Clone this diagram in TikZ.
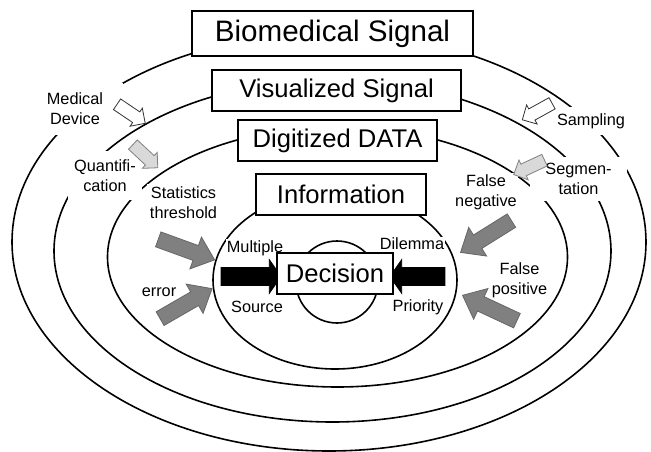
\documentclass[tikz,border=0pt]{standalone}
\usepackage{fontspec}
\setmainfont{Liberation Sans}
\usetikzlibrary{shapes.arrows}

\begin{document}
\begin{tikzpicture}[x=1pt, y=-1pt,
  ring/.style={draw=black, line width=1.6pt},
  layerbox/.style={draw=black, line width=1.5pt, fill=white, inner sep=0pt,
    minimum height=41pt, font=\fontsize{25.6}{30}\selectfont},
  note/.style={fill=white, inner sep=1pt, align=center,
    font=\fontsize{16.3}{20}\selectfont},
  blockarrow/.style={single arrow, inner xsep=0pt, line width=0.8pt},
  thinarrow/.style={blockarrow, minimum height=34pt, inner ysep=6pt,
    single arrow head extend=4.5pt},
  hollowarrow/.style={thinarrow, fill=white, draw=black!80},
  palearrow/.style={thinarrow, fill=black!15, draw=black!50},
  fatarrow/.style={blockarrow, minimum height=60pt, inner ysep=7.5pt,
    single arrow head extend=9pt, single arrow tip angle=80,
    fill=black!50, draw=black!60},
  solidarrow/.style={blockarrow, inner ysep=8.5pt,
    single arrow head extend=8pt, single arrow tip angle=110,
    fill=black, draw=black}]
  \useasboundingbox (0,0) rectangle (651,452);

  % 同心の楕円 (外側から内側へ)
  \draw[ring] (329,242) ellipse [x radius=317pt, y radius=209pt];
  \draw[ring] (332.5,251) ellipse [x radius=278.5pt, y radius=171pt];
  \draw[ring] (337.5,257) ellipse [x radius=230pt, y radius=130pt];
  \draw[ring] (335,280) ellipse [x radius=122pt, y radius=89pt];
  \draw[ring] (337,282) circle [radius=41pt];

  % 左側のラベル
  \node[note, inner xsep=20pt, inner ysep=10pt] (lMed) at (75,109) {Medical\\Device};
  \node[note, inner xsep=6pt, inner ysep=9pt] (lQuant) at (105,175.5) {Quantifi-\\cation};
  \node[note, inner sep=3pt] (lStat) at (183.5,202.5) {Statistics\\threshold};
  \node[note] (lErr) at (159,292) {error};

  % 右側のラベル
  \node[note, inner xsep=8pt, inner ysep=6pt] (lSamp) at (591,121) {Sampling};
  \node[note, inner xsep=15pt, inner ysep=6pt] (lSeg) at (578.5,179) {Segmen-\\tation};
  \node[note] (lFneg) at (486,192) {False\\negative};
  \node[note] (lFpos) at (519.5,280) {False\\positive};

  % 中心付近のラベル
  \node[note] (lMult) at (255,248) {Multiple};
  \node[note] (lSrc) at (257,307) {Source};
  \node[note] (lDil) at (412,244) {Dilemma};
  \node[note] (lPri) at (418,307) {Priority};

  % ブロック矢印
  \node[hollowarrow, rotate=-34] (aMed) at (128.5,112) {};
  \node[palearrow, rotate=-43] (aQuant) at (143,154) {};
  \node[hollowarrow, rotate=-151] (aSamp) at (540,110) {};
  \node[palearrow, rotate=-155] (aSeg) at (532,166) {};
  \node[fatarrow, rotate=-20] (aStat) at (182,248) {};
  \node[fatarrow, rotate=30] (aErr) at (182,306) {};
  \node[fatarrow, rotate=-148] (aFneg) at (490,234) {};
  \node[fatarrow, rotate=155] (aFpos) at (494,310) {};
  \node[solidarrow, minimum height=60pt] (aMult) at (248,276.5) {};
  \node[solidarrow, minimum height=55pt, rotate=180] (aDil) at (420.5,276.5) {};

  % 各層の名前
  \node[layerbox, minimum width=281pt, minimum height=45pt,
    font=\fontsize{29.6}{34}\selectfont] (bBio) at (332.5,33.5) {Biomedical Signal};
  \node[layerbox, minimum width=249pt] (bVis) at (336.5,90.5) {Visualized Signal};
  \node[layerbox, minimum width=199pt] (bDig) at (337.5,140.5) {Digitized DATA};
  \node[layerbox, minimum width=170pt] (bInf) at (341,194.5) {Information};
  \node[layerbox, minimum width=116pt] (bDec) at (335,273.5) {Decision};
\end{tikzpicture}
\end{document}
